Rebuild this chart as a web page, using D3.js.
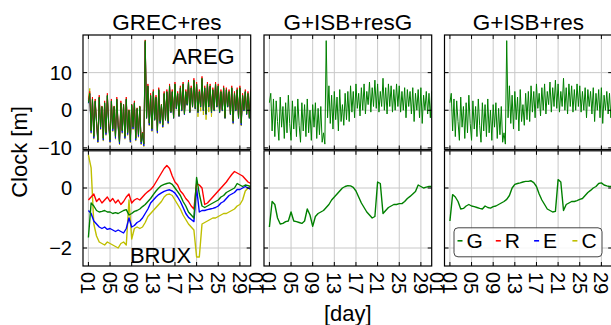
<!DOCTYPE html>
<html>
<head>
<meta charset="utf-8">
<script src="https://cdn.jsdelivr.net/npm/d3@7"></script>
<style>
  body { margin: 0; background: #fff; }
  svg { display: block; font-family: "Liberation Sans", Arial, sans-serif; }
</style>
</head>
<body>
<svg id="chart" width="611" height="325"></svg>
<script>
// ---- data (days since the 1st, top row sampled every 6 h, bottom row every 12 h) ----
const topStep = 0.25;
const botStep = 0.5;

// AREG clock residual [m], G is shared by all three top panels
const gTop = [
  2.0, 4.5, -5.5, 3.0,  -7.0, 2.5, -3.0, -8.0,  3.5, -4.5, 1.0, -7.5,  2.0, -6.0, 4.0, -3.5,
  -8.0, 2.5, -5.0, 1.0,  -7.0, 3.0, -4.0, -8.5,  2.0, -5.5, 1.5, -7.0,  3.0, -6.0, 0.0, -8.0,
  1.5, -4.5, 2.0, -7.5,  0.5, -6.5, 1.0, -8.5,  -6.0, -9.0, 18.5, -2.0,  6.5, -3.5, 4.0, -5.0,
  5.0, -2.5, 3.5, -5.5,  5.5, -3.0, 1.5, -4.0,  4.5, -2.5, 5.0, -3.0,  6.5, -0.5, 5.0, -2.0,
  7.0, 0.5, 4.5, -1.5,  6.0, 0.0, 7.0, -1.0,  5.0, 1.5, 7.5, -0.5,  6.0, 1.0, 8.0, 0.5,
  7.0, -0.5, 5.0, 1.0,  8.5, 0.0, 6.0, -1.0,  7.0, 1.0, 6.5, -0.5,  5.5, 0.0, 7.0, 1.0,
  6.5, -0.5, 5.0, 0.0,  6.0, -2.0, 5.5, 1.0,  5.0, -1.0, 6.0, -3.0,  4.5, 0.0, 5.5, -2.0,
  6.0, -3.5, 4.0, 0.0,  5.0, -1.0, 4.5, -2.0,  5.0, -4.0
];
const rTop = [
  2.5, 5.0, -5.35, 3.5,  -6.85, 3.0, -2.85, -7.85,  4.0, -4.35, 1.15, -7.35,  2.5, -5.85, 4.5, -3.35,
  -7.85, 3.0, -4.85, 1.15,  -6.85, 3.5, -3.85, -8.35,  2.5, -5.35, 1.65, -6.85,  3.5, -5.85, 0.15, -7.85,
  1.65, -4.35, 2.5, -7.35,  0.65, -6.35, 1.15, -8.35,  -5.85, -8.85, 18.7, -1.85,  7.0, -3.35, 4.5, -4.85,
  5.5, -2.35, 4.0, -5.35,  6.0, -2.85, 1.65, -3.85,  5.0, -2.35, 5.5, -2.85,  7.0, -0.35, 5.5, -1.85,
  7.5, 0.65, 5.0, -1.35,  6.5, 0.15, 7.5, -0.85,  5.5, 1.65, 8.0, -0.35,  6.5, 1.15, 8.5, 0.65,
  7.5, -0.35, 5.5, 1.15,  9.0, 0.15, 6.5, -0.85,  7.5, 1.15, 7.0, -0.35,  6.0, 0.15, 7.5, 1.15,
  7.0, -0.35, 5.5, 0.15,  6.5, -1.85, 6.0, 1.15,  5.5, -0.85, 6.5, -2.85,  5.0, 0.15, 6.0, -1.85,
  6.5, -3.35, 4.5, 0.15,  5.5, -0.85, 5.0, -1.85,  5.5, -3.85
];
const eTop = [
  1.85, 4.35, -5.95, 2.85,  -7.45, 2.35, -3.45, -8.45,  3.35, -4.95, 0.85, -7.95,  1.85, -6.45, 3.85, -3.95,
  -8.45, 2.35, -5.45, 0.85,  -7.45, 2.85, -4.45, -8.95,  1.85, -5.95, 1.35, -7.45,  2.85, -6.45, -0.15, -8.45,
  1.35, -4.95, 1.85, -7.95,  0.35, -6.95, 0.85, -8.95,  -6.45, -9.45, 18.2, -2.15,  6.35, -3.95, 3.85, -5.45,
  4.85, -2.65, 3.35, -5.95,  5.35, -3.45, 1.35, -4.45,  4.35, -2.65, 4.85, -3.45,  6.35, -0.65, 4.85, -2.15,
  6.85, 0.35, 4.35, -1.65,  5.85, -0.15, 6.85, -1.15,  4.85, 1.35, 7.35, -0.65,  5.85, 0.85, 7.85, 0.35,
  6.85, -0.65, 4.85, 0.85,  8.35, -0.15, 5.85, -1.15,  6.85, 0.85, 6.35, -0.65,  5.35, -0.15, 6.85, 0.85,
  6.35, -0.65, 4.85, -0.15,  5.85, -2.15, 5.35, 0.85,  4.85, -1.15, 5.85, -3.45,  4.35, -0.15, 5.35, -2.15,
  5.85, -3.95, 3.85, -0.15,  4.85, -1.15, 4.35, -2.15,  4.85, -4.45
];
const cTop = [
  3.0, 5.8, -6.2, 2.75,  -7.7, 2.25, -3.7, -8.7,  3.25, -5.2, 0.75, -8.2,  1.75, -6.7, 3.75, -4.2,
  -8.7, 2.25, -5.7, 0.75,  -7.7, 2.75, -4.7, -9.2,  1.75, -6.2, 1.25, -7.7,  2.75, -6.7, -0.25, -8.7,
  1.25, -5.2, 1.75, -8.2,  0.25, -7.2, 0.75, -9.2,  -6.7, -9.7, 18.0, -2.25,  6.25, -4.2, 3.75, -5.7,
  4.75, -2.75, 3.25, -6.2,  5.25, -3.7, 1.25, -4.7,  4.25, -2.75, 4.75, -3.7,  6.25, -0.75, 4.75, -2.25,
  6.75, 0.25, 4.25, -1.75,  5.75, -0.25, 6.75, -1.25,  4.75, 1.25, 7.25, -0.75,  5.75, 0.75, 7.75, 0.25,
  6.75, -1.75, 4.75, -0.25,  8.25, -1.25, 5.75, -2.5,  6.75, -0.5, 6.25, -1.75,  5.25, -0.25, 6.75, 0.75,
  6.25, -0.75, 4.75, -0.25,  5.75, -2.25, 5.25, 0.75,  4.75, -1.25, 5.75, -3.7,  4.25, -0.25, 5.25, -2.25,
  5.75, -4.2, 3.75, -0.25,  4.75, -1.25, 4.25, -2.25,  4.75, -4.7
];

// BRUX clock residual [m], GREC+res
const gBot1 = [
  -1.65, -0.5, -0.6, -0.75, -0.8, -0.78, -0.75, -0.8, -0.8, -0.85,
  -0.82, -0.85, -0.8, -0.75, -0.72, -0.9, -0.85, -0.78, -0.75, -0.7,
  -0.62, -0.55, -0.45, -0.35, -0.22, -0.1, 0.0, 0.08, 0.12, 0.15,
  0.17, 0.12, 0.0, -0.12, -0.25, -0.45, -0.6, -0.8, -0.9, -1.0,
  0.35, -0.2, -0.6, -0.65, -0.6, -0.55, -0.5, -0.45, -0.4, -0.3,
  -0.25, -0.15, -0.1, -0.05, 0.0, 0.15, 0.1, 0.05, 0.1, 0.08, 0.05
];
const rBot1 = [
  -0.4, -0.3, -0.2, -0.45, -0.35, -0.5, -0.4, -0.3, -0.45, -0.35,
  -0.5, -0.4, -0.55, -0.45, -0.3, -0.2, -0.5, -0.4, -0.35, -0.4,
  -0.3, -0.2, -0.12, -0.05, 0.05, 0.2, 0.35, 0.5, 0.65, 0.75,
  0.65, 0.4, 0.2, 0.1, -0.1, -0.2, -0.35, -0.45, -0.6, -0.7,
  0.15, 0.1, 0.0, -0.55, -0.5, -0.4, -0.3, -0.2, -0.1, 0.0,
  0.1, 0.2, 0.33, 0.45, 0.55, 0.5, 0.45, 0.4, 0.3, 0.2, 0.15
];
const eBot1 = [
  -0.75, -0.85, -1.1, -1.2, -1.3, -1.35, -1.3, -1.38, -1.35, -1.4,
  -1.45, -1.4, -1.45, -1.5, -1.35, -1.0, -1.3, -1.25, -1.15, -1.1,
  -1.0, -0.85, -0.7, -0.5, -0.4, -0.3, -0.22, -0.16, -0.11, -0.08,
  -0.06, -0.1, -0.17, -0.3, -0.45, -0.65, -0.85, -0.98, -1.05, -1.12,
  0.0, -0.8, -0.75, -0.75, -0.72, -0.7, -0.68, -0.65, -0.6, -0.5,
  -0.45, -0.35, -0.25, -0.2, -0.15, -0.05, -0.05, 0.0, 0.05, 0.0, -0.05
];
const cBot1 = [
  1.1, 0.67, -1.2, -1.6, -1.8, -1.85, -1.9, -1.8, -1.85, -1.9,
  -1.95, -2.0, -1.85, -1.8, -1.9, -0.4, -1.7, -1.35, -1.3, -1.35,
  -1.3, -1.15, -0.95, -0.85, -0.75, -0.65, -0.55, -0.45, -0.3, -0.22,
  -0.2, -0.25, -0.4, -0.55, -0.7, -0.9, -1.05, -1.2, -1.3, -1.4,
  -2.3, -2.3, -1.2, -1.15, -1.1, -1.05, -1.0, -1.0, -0.95, -0.9,
  -0.85, -0.85, -0.8, -0.75, -0.7, -0.6, -0.55, -0.4, -0.1, 0.0, 0.0
];
// BRUX, G+ISB+resG
const gBot2 = [
  -1.3, -0.45, -0.55, -1.0, -1.2, -1.18, -1.12, -1.1, -0.8, -1.1,
  -1.12, -1.15, -1.18, -1.1, -0.7, -0.9, -1.28, -0.95, -0.85, -0.8,
  -0.75, -0.65, -0.55, -0.4, -0.3, -0.2, -0.1, 0.0, 0.05, 0.08,
  0.07, 0.02, -0.1, -0.3, -0.5, -0.65, -0.8, -0.9, -1.0, -0.95,
  0.2, 0.15, -0.85, -0.75, -0.65, -0.6, -0.55, -0.55, -0.52, -0.52,
  -0.45, -0.35, -0.28, -0.2, -0.12, 0.1, 0.05, 0.0, 0.03, 0.05, 0.05
];
// BRUX, G+ISB+res
const gBot3 = [
  -1.1, -0.22, -0.3, -0.45, -0.7, -0.68, -0.6, -0.55, -0.6, -0.62,
  -0.65, -0.68, -0.7, -0.6, -0.65, -0.67, -0.62, -0.6, -0.55, -0.5,
  -0.45, -0.38, -0.25, 0.0, 0.12, 0.15, 0.17, 0.2, 0.22, 0.22,
  0.24, 0.18, 0.05, -0.2, -0.4, -0.55, -0.7, -0.75, -0.8, -0.78,
  0.28, 0.2, -0.75, -0.55, -0.5, -0.45, -0.45, -0.42, -0.38, -0.35,
  -0.25, -0.15, -0.08, 0.0, 0.05, 0.15, 0.17, 0.1, 0.07, 0.05, 0.05
];

const dayTicks = [0, 4, 8, 12, 16, 20, 24, 28];
const dayLabelPos = [0, 4, 8, 12, 16, 20, 24, 28, 31];
const dayLabels = ['01', '05', '09', '13', '17', '21', '25', '29', '01'];
const topTicks = [-10, 0, 10];
const botTicks = [-2, 0];
const titles = ['GREC+res', 'G+ISB+resG', 'G+ISB+res'];
const stations = ['AREG', 'BRUX'];
const legendNames = ['G', 'R', 'E', 'C'];
const colors = { G: '#008000', R: '#ff0000', E: '#0000ff', C: '#bfbf00' };

// panels: [row][col] -> list of series (drawn in order, G last so it sits on top)
const panels = [
  [
    [{ sys: 'C', v: cTop }, { sys: 'E', v: eTop }, { sys: 'R', v: rTop }, { sys: 'G', v: gTop }],
    [{ sys: 'G', v: gTop }],
    [{ sys: 'G', v: gTop }]
  ],
  [
    [{ sys: 'C', v: cBot1 }, { sys: 'E', v: eBot1 }, { sys: 'R', v: rBot1 }, { sys: 'G', v: gBot1 }],
    [{ sys: 'G', v: gBot2 }],
    [{ sys: 'G', v: gBot3 }]
  ]
];

// ---- layout ----
const W = 611, H = 325;
const colLeft = [83, 264, 444.5];
const panelW = 167.7;
const rowTop = [35, 150.8];
const rowH = [114.5, 115.2];
const xDomain = [-1, 30];
const yDomains = [[-10.43, 20], [-2.6, 1.24]];
const steps = [topStep, botStep];
const yTicks = [topTicks, botTicks];
const gridColor = '#c8c8c8';
const fmt = d => (d < 0 ? '\u2212' + Math.abs(d) : String(d));

const svg = d3.select('#chart');
svg.append('rect').attr('width', W).attr('height', H).attr('fill', '#fff');

const defs = svg.append('defs');

panels.forEach((row, ri) => {
  row.forEach((series, ci) => {
    const x0 = colLeft[ci], y0 = rowTop[ri], w = panelW, h = rowH[ri];
    const x = d3.scaleLinear().domain(xDomain).range([x0, x0 + w]);
    const y = d3.scaleLinear().domain(yDomains[ri]).range([y0 + h, y0]);
    const g = svg.append('g').attr('class', `panel r${ri} c${ci}`);

    const clipId = `clip-${ri}-${ci}`;
    defs.append('clipPath').attr('id', clipId)
      .append('rect').attr('x', x0).attr('y', y0).attr('width', w).attr('height', h);

    // grid
    const grid = g.append('g').attr('stroke', gridColor).attr('stroke-width', 1);
    grid.selectAll('.vg').data(dayTicks).enter().append('line')
      .attr('x1', d => x(d)).attr('x2', d => x(d))
      .attr('y1', y0).attr('y2', y0 + h);
    grid.selectAll('.hg').data(yTicks[ri]).enter().append('line')
      .attr('x1', x0).attr('x2', x0 + w)
      .attr('y1', d => y(d)).attr('y2', d => y(d));

    // series
    const line = d3.line()
      .x((d, i) => x(i * steps[ri]))
      .y(d => y(d));
    g.append('g').attr('clip-path', `url(#${clipId})`)
      .selectAll('path').data(series).enter().append('path')
      .attr('d', d => line(d.v))
      .attr('fill', 'none')
      .attr('stroke', d => colors[d.sys])
      .attr('stroke-width', ri === 0 ? 1 : 1.4)
      .attr('stroke-linejoin', 'round');

    // inward ticks on all four sides
    const tl = 4;
    const ticks = g.append('g').attr('stroke', '#000').attr('stroke-width', 1);
    dayTicks.forEach(d => {
      ticks.append('line').attr('x1', x(d)).attr('x2', x(d)).attr('y1', y0).attr('y2', y0 + tl);
      ticks.append('line').attr('x1', x(d)).attr('x2', x(d)).attr('y1', y0 + h).attr('y2', y0 + h - tl);
    });
    yTicks[ri].forEach(d => {
      ticks.append('line').attr('x1', x0).attr('x2', x0 + tl).attr('y1', y(d)).attr('y2', y(d));
      ticks.append('line').attr('x1', x0 + w).attr('x2', x0 + w - tl).attr('y1', y(d)).attr('y2', y(d));
    });

    // frame
    g.append('rect').attr('x', x0).attr('y', y0).attr('width', w).attr('height', h)
      .attr('fill', 'none').attr('stroke', '#000').attr('stroke-width', 1.2);

    // y tick labels only in first column
    if (ci === 0) {
      g.selectAll('.yl').data(yTicks[ri]).enter().append('text')
        .attr('x', x0 - 11).attr('y', d => y(d))
        .attr('dy', '0.36em')
        .attr('text-anchor', 'end')
        .attr('font-size', 20)
        .text(fmt);
    }

    // x tick labels (rotated) only in bottom row, skipping any that fall off the page
    if (ri === 1) {
      const lab = dayLabelPos.map((d, i) => ({ d, t: dayLabels[i] })).filter(o => x(o.d) < W - 4);
      g.selectAll('.xl').data(lab).enter().append('text')
        .attr('transform', o => `translate(${x(o.d)},272) rotate(90)`)
        .attr('dy', '0.36em')
        .attr('text-anchor', 'start')
        .attr('font-size', 20)
        .text(o => o.t);
    }

    if (ri === 0) {
      svg.append('text').attr('x', x0 + w / 2).attr('y', 29.5)
        .attr('text-anchor', 'middle').attr('font-size', 22.5)
        .text(titles[ci]);
    }

    if (ci === 0) {
      if (ri === 0) {
        g.append('text').attr('x', x0 + w - 16).attr('y', y0 + 28.5)
          .attr('text-anchor', 'end').attr('font-size', 22).text(stations[0]);
      } else {
        g.append('text').attr('x', x0 + 77.5).attr('y', y0 + h - 3)
          .attr('text-anchor', 'middle').attr('font-size', 22).text(stations[1]);
      }
    }

    // legend in bottom-right panel
    if (ri === 1 && ci === 2) {
      const lg = g.append('g').attr('transform', `translate(${x0 + 9.5},${y0 + 77})`);
      lg.append('rect').attr('width', 148).attr('height', 29).attr('rx', 4)
        .attr('fill', '#fff').attr('fill-opacity', 0.85)
        .attr('stroke', '#444').attr('stroke-width', 1);
      const item = lg.selectAll('.item').data(legendNames).enter().append('g')
        .attr('transform', (d, i) => `translate(${3.5 + i * 38.3},0)`);
      item.append('line').attr('x1', 0).attr('x2', 5).attr('y1', 13).attr('y2', 13)
        .attr('stroke', d => colors[d]).attr('stroke-width', 1.6);
      item.append('text').attr('x', 9).attr('y', 20.5).attr('font-size', 21).text(d => d);
    }
  });
});

// axis labels
svg.append('text')
  .attr('transform', 'translate(27,152) rotate(-90)')
  .attr('text-anchor', 'middle').attr('font-size', 22)
  .text('Clock [m]');
svg.append('text')
  .attr('x', colLeft[1] + panelW / 2).attr('y', 321)
  .attr('text-anchor', 'middle').attr('font-size', 22)
  .text('[day]');
</script>
</body>
</html>
